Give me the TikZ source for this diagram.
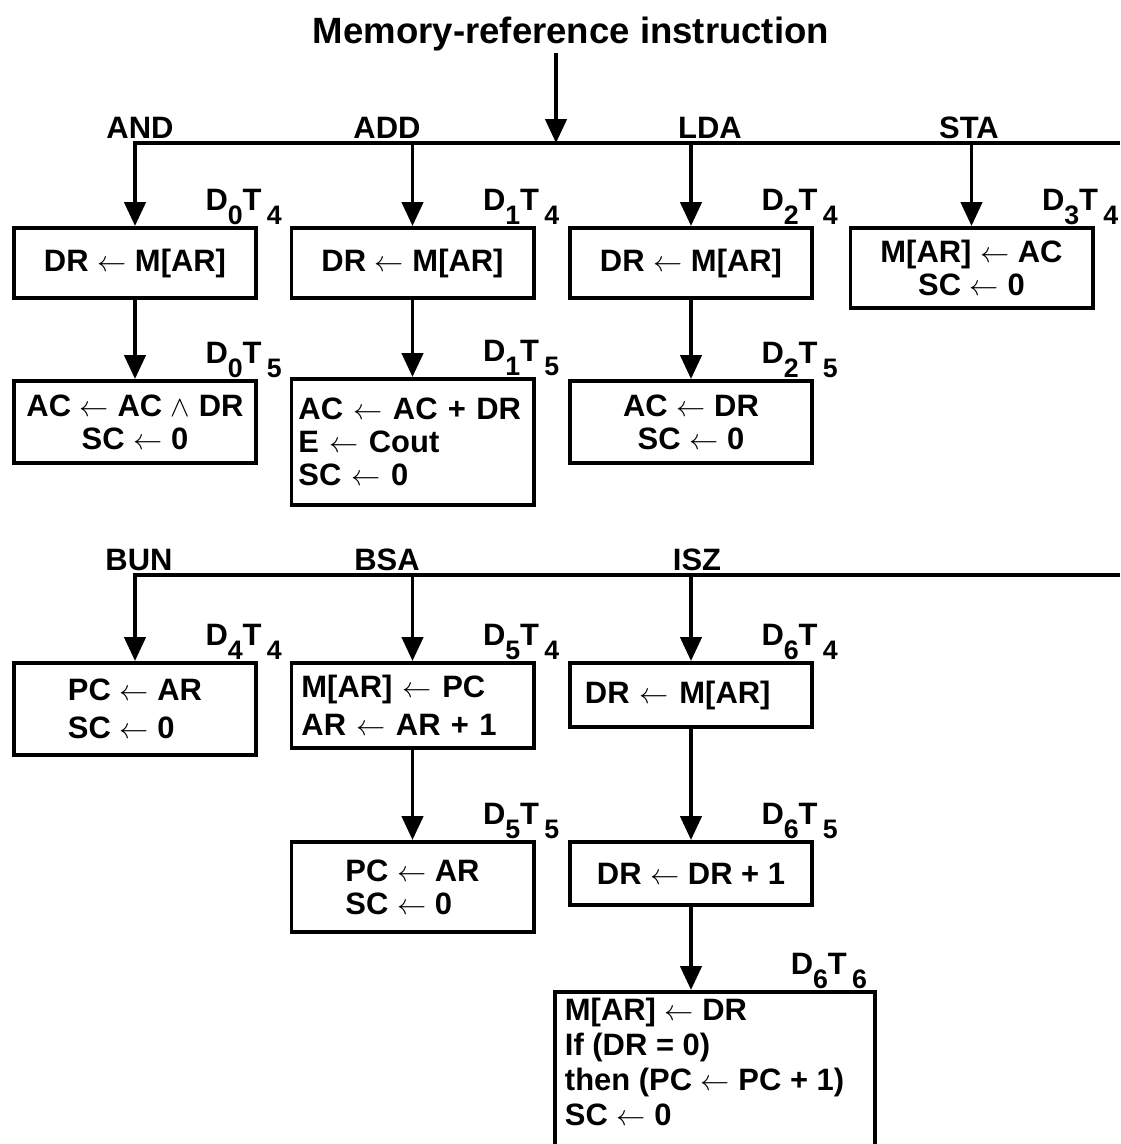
\documentclass[tikz,border=0pt]{standalone}
\usepackage{fontspec}
\setmainfont{Liberation Sans}
\usetikzlibrary{arrows.meta}

\newcommand{\boxfont}{\fontsize{22}{23.5}\selectfont\bfseries}
\newcommand{\regto}{$\leftarrow$}
\newcommand{\DT}[2]{D\raisebox{-10pt}{\fontsize{19}{19}\selectfont #1}T\,\raisebox{-10pt}{\fontsize{19}{19}\selectfont #2}}

\tikzset{
  thickline/.style={line width=2.8pt},
  arr/.style={thickline, -{Triangle[length=17pt,width=15pt]}},
  box/.style={draw, line width=2.8pt, minimum width=6.05cm, inner sep=0pt, align=center, font=\boxfont},
  lbl/.style={anchor=base, inner sep=0pt, font=\boxfont},
  tag/.style={anchor=base east, inner sep=0pt, xshift=17pt, yshift=11pt, font=\boxfont},
}

\begin{document}
\begin{tikzpicture}[x=0.025cm, y=-0.025cm]
    \useasboundingbox (0,0) rectangle (1120,1144);

    \node[lbl, inner sep=1pt, font=\fontsize{26}{28}\selectfont\bfseries] (title) at (571,44) {Memory-reference instruction};

    % AND, ADD, LDA, STA
    \coordinate (split) at (556,143);
    \coordinate (bus1) at (1120,143);
    \node[lbl] (andl) at (140,138) {AND};
    \node[lbl] (addl) at (387,138) {ADD};
    \node[lbl] (ldal) at (710,138) {LDA};
    \node[lbl] (stal) at (969,138) {STA};

    \node[box, minimum height=1.75cm] (and1) at (135,263) {DR \regto{} M[AR]};
    \node[box, minimum height=1.75cm] (add1) at (412.5,263) {DR \regto{} M[AR]};
    \node[box, minimum height=1.75cm] (lda1) at (691,263) {DR \regto{} M[AR]};
    \node[box, minimum height=2cm] (sta1) at (971.5,268) {M[AR] \regto{} AC\\SC \regto{} 0};

    \node[box, minimum height=2.05cm] (and2) at (135,422) {AC \regto{} AC $\wedge$ DR\\SC \regto{} 0};
    \node[box, minimum height=3.15cm, text width=5.7cm, align=left] (add2) at (412.5,442) {AC \regto{} AC + DR\\E \regto{} Cout\\SC \regto{} 0};
    \node[box, minimum height=2.05cm] (lda2) at (691,422) {AC \regto{} DR\\SC \regto{} 0};

    \node[tag] (and1t) at (and1.north east) {\DT04};
    \node[tag] (add1t) at (add1.north east) {\DT14};
    \node[tag] (lda1t) at (lda1.north east) {\DT24};
    \node[tag] (sta1t) at (sta1.north east) {\DT34};
    \node[tag] (and2t) at (and2.north east) {\DT05};
    \node[tag] (add2t) at (add2.north east) {\DT15};
    \node[tag] (lda2t) at (lda2.north east) {\DT25};

    \draw[arr] (title.south -| split) -- (split);
    \draw[arr] (bus1) -- (and1.north |- bus1) -- (and1.north);
    \draw[arr] (add1.north |- bus1) -- (add1.north);
    \draw[arr] (lda1.north |- bus1) -- (lda1.north);
    \draw[arr] (sta1.north |- bus1) -- (sta1.north);
    \draw[arr] (and1.south) -- (and2.north);
    \draw[arr] (add1.south) -- (add2.north);
    \draw[arr] (lda1.south) -- (lda2.north);

    % BUN, BSA, ISZ
    \coordinate (bus2) at (1120,575);
    \node[lbl] (bunl) at (139,570) {BUN};
    \node[lbl] (bsal) at (387,570) {BSA};
    \node[lbl] (iszl) at (697,570) {ISZ};

    \node[box, minimum height=2.3cm, align=left, font={\fontsize{22}{27}\selectfont\bfseries}] (bun1) at (135,709) {PC \regto{} AR\\SC \regto{} 0};
    \node[box, minimum height=2.125cm, text width=5.55cm, align=left, font={\fontsize{22}{27}\selectfont\bfseries}] (bsa1) at (412.5,705.5) {M[AR] \regto{} PC\\AR \regto{} AR + 1};
    \node[box, minimum height=1.6cm, text width=5.3cm, align=left] (isz1) at (691,695) {DR \regto{} M[AR]};
    \node[box, minimum height=2.25cm, align=left] (bsa2) at (412.5,887) {PC \regto{} AR\\SC \regto{} 0};
    \node[box, minimum height=1.575cm] (isz2) at (691,873.5) {DR \regto{} DR + 1};
    \node[box, anchor=north, minimum width=8cm, inner xsep=0.25cm, inner ysep=0.15cm] (isz3) at (715,990)
      {\parbox[t][4.3cm][t]{7.5cm}{\fontsize{22}{25}\selectfont\bfseries\raggedright
       M[AR] \regto{} DR\\If (DR = 0)\\then (PC \regto{} PC + 1)\\SC \regto{} 0}};

    \node[tag] (bun1t) at (bun1.north east) {\DT44};
    \node[tag] (bsa1t) at (bsa1.north east) {\DT54};
    \node[tag] (isz1t) at (isz1.north east) {\DT64};
    \node[tag] (bsa2t) at (bsa2.north east) {\DT55};
    \node[tag] (isz2t) at (isz2.north east) {\DT65};
    \node[tag, xshift=-24pt] (isz3t) at (isz3.north east) {\DT66};

    \draw[arr] (bus2) -- (bun1.north |- bus2) -- (bun1.north);
    \draw[arr] (bsa1.north |- bus2) -- (bsa1.north);
    \draw[arr] (isz1.north |- bus2) -- (isz1.north);
    \draw[arr] (bsa1.south) -- (bsa2.north);
    \draw[arr] (isz1.south) -- (isz2.north);
    \draw[arr] (isz2.south) -- (isz2.south |- isz3.north);
\end{tikzpicture}
\end{document}
